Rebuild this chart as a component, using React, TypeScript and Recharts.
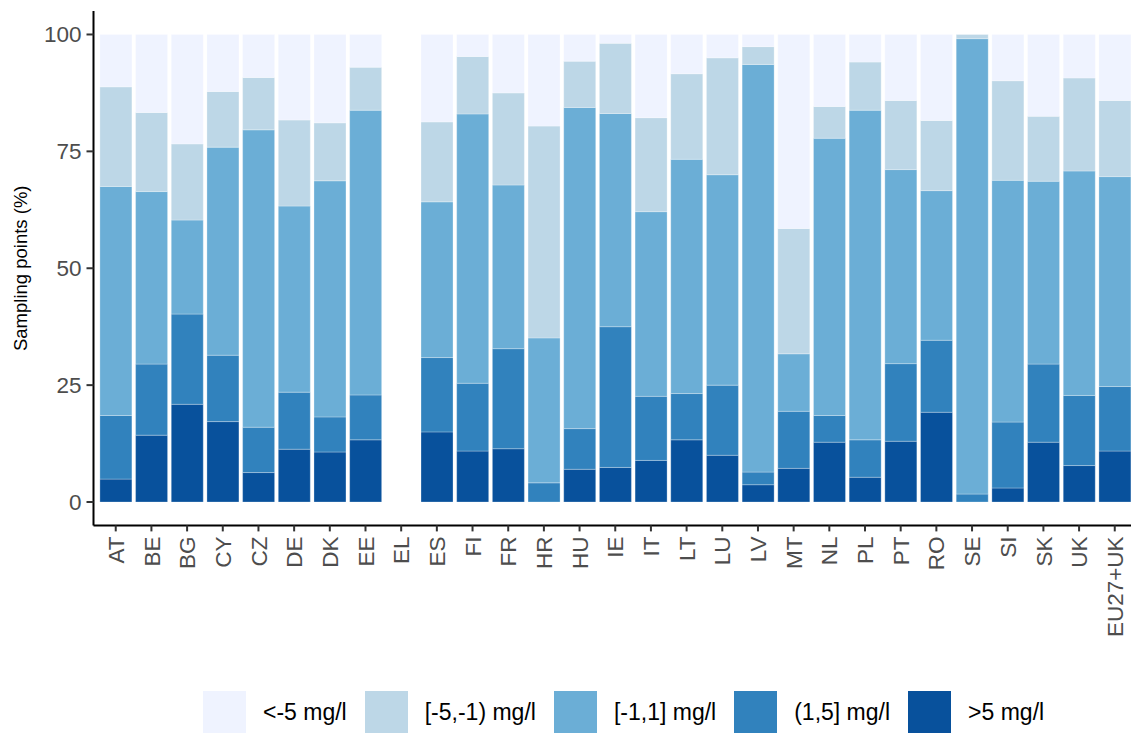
import React from 'react';
import { BarChart, Bar, XAxis, YAxis } from 'recharts';

const countries = ['AT', 'BE', 'BG', 'CY', 'CZ', 'DE', 'DK', 'EE', 'EL', 'ES', 'FI', 'FR', 'HR', 'HU', 'IE', 'IT', 'LT', 'LU', 'LV', 'MT', 'NL', 'PL', 'PT', 'RO', 'SE', 'SI', 'SK', 'UK', 'EU27+UK'];

// segment shares (%), bottom to top
const over5: (number | null)[] = [4.9, 14.3, 20.9, 17.2, 6.3, 11.3, 10.7, 13.3, null, 15.0, 10.9, 11.4, 0, 7.0, 7.4, 8.9, 13.3, 10.0, 3.7, 7.2, 12.8, 5.3, 13.0, 19.2, 0, 3.0, 12.8, 7.8, 10.9];
const from1to5: (number | null)[] = [13.6, 15.2, 19.3, 14.2, 9.7, 12.2, 7.5, 9.6, null, 15.9, 14.5, 21.4, 4.1, 8.7, 30.1, 13.7, 9.9, 15.0, 2.7, 12.2, 5.7, 8.0, 16.6, 15.4, 1.7, 14.1, 16.7, 15.0, 13.8];
const minus1to1: (number | null)[] = [49.0, 36.9, 20.1, 44.5, 63.6, 39.8, 50.5, 60.9, null, 33.3, 57.6, 35.0, 31.0, 68.7, 45.6, 39.5, 50.1, 45.0, 87.2, 12.3, 59.3, 70.5, 41.5, 32.0, 97.4, 51.7, 39.1, 48.0, 44.9];
const minus5to1: (number | null)[] = [21.3, 16.9, 16.3, 11.9, 11.2, 18.4, 12.4, 9.2, null, 17.1, 12.3, 19.7, 45.3, 9.9, 15.0, 20.1, 18.3, 25.0, 3.8, 26.8, 6.8, 10.3, 14.8, 15.0, 0.9, 21.3, 13.9, 19.9, 16.3];
const under5: (number | null)[] = [11.2, 16.7, 23.4, 12.2, 9.2, 18.3, 18.9, 7.0, null, 18.7, 4.7, 12.5, 19.6, 5.7, 1.9, 17.8, 8.4, 5.0, 2.6, 41.5, 15.4, 5.9, 14.1, 18.4, 0, 9.9, 17.5, 9.3, 14.1];

const yTicks = [0, 25, 50, 75, 100];

const seriesKeys = ['over5', 'from1to5', 'minus1to1', 'minus5to1', 'under5'];
const seriesColors = ['#08519C', '#3182BD', '#6BAED6', '#BDD7E7', '#EFF3FF'];
const legendLabels = ['<-5 mg/l', '[-5,-1) mg/l', '[-1,1] mg/l', '(1,5] mg/l', '>5 mg/l'];
const legendColors = ['#EFF3FF', '#BDD7E7', '#6BAED6', '#3182BD', '#08519C'];

const data = countries.map((c, i) => ({
  country: c,
  over5: over5[i],
  from1to5: from1to5[i],
  minus1to1: minus1to1[i],
  minus5to1: minus5to1[i],
  under5: under5[i],
}));

const FONT = '"Liberation Sans", Arial, sans-serif';

const XTick = (props: any) => {
  const { x, y, payload } = props;
  return (
    <text
      transform={`translate(${x},${y + 3}) rotate(-90)`}
      textAnchor="end"
      dy="0.36em"
      fontSize={22.5}
      fill="#4D4D4D"
      fontFamily={FONT}
    >
      {payload.value}
    </text>
  );
};

const YTitle = (props: any) => {
  const vb = props.viewBox || { x: 0, y: 0, width: 0, height: 0 };
  const cx = 20;
  const cy = vb.y + vb.height / 2;
  return (
    <text
      x={cx}
      y={cy}
      transform={`rotate(-90 ${cx} ${cy})`}
      textAnchor="middle"
      dominantBaseline="central"
      fontSize={18.5}
      fill="#000"
      fontFamily={FONT}
    >
      Sampling points (%)
    </text>
  );
};

export default function App() {
  return (
    <div
      style={{
        position: 'absolute',
        left: 0,
        top: 0,
        width: 1131,
        height: 733,
        overflow: 'hidden',
        background: '#fff',
        fontFamily: FONT,
      }}
    >
      <BarChart
        width={1137}
        height={733}
        data={data}
        margin={{ top: 11.1, right: 0, bottom: 0, left: 0 }}
        barSize={32}
      >
        <XAxis
          dataKey="country"
          interval={0}
          height={207.6}
          tick={<XTick />}
          tickSize={6}
          tickMargin={2}
          padding={{ left: 4.4, right: 4.4 }}
          axisLine={{ stroke: '#000', strokeWidth: 2 }}
          tickLine={{ stroke: '#333', strokeWidth: 2 }}
        />
        <YAxis
          type="number"
          domain={[-5, 105]}
          ticks={yTicks}
          width={93.5}
          tickSize={7}
          tickMargin={5}
          tick={{ fontSize: 22.5, fill: '#4D4D4D', fontFamily: FONT }}
          axisLine={{ stroke: '#000', strokeWidth: 2 }}
          tickLine={{ stroke: '#333', strokeWidth: 2 }}
          label={<YTitle />}
        />
        {seriesKeys.map((k, i) => (
          <Bar
            key={k}
            dataKey={k}
            stackId="a"
            fill={seriesColors[i]}
            stroke="#ffffff"
            strokeOpacity={0.35}
            strokeWidth={0.8}
            isAnimationActive={false}
          />
        ))}
      </BarChart>
      <div
        style={{
          position: 'absolute',
          left: 203,
          top: 691,
          height: 43,
          display: 'flex',
          alignItems: 'center',
          fontSize: 23,
          color: '#000',
          whiteSpace: 'nowrap',
        }}
      >
        {legendLabels.map((l, i) => (
          <div key={l} style={{ display: 'flex', alignItems: 'center', marginRight: 18 }}>
            <div style={{ width: 43, height: 43, background: legendColors[i], marginRight: 17 }} />
            <span>{l}</span>
          </div>
        ))}
      </div>
    </div>
  );
}
